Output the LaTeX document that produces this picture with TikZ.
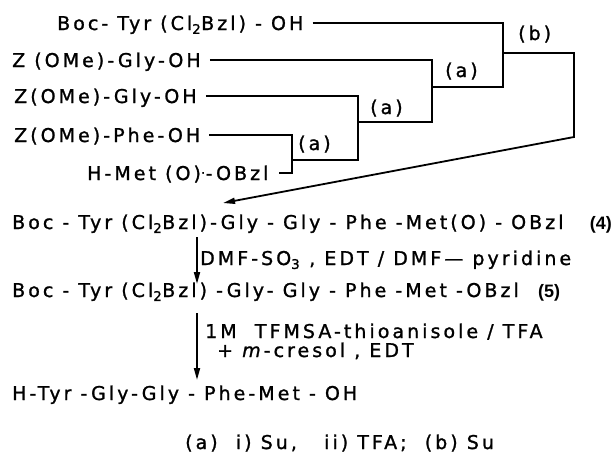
\documentclass[tikz,border=0pt]{standalone}
\usepackage{fontspec}
\setmainfont{DejaVu Sans}[LetterSpace=16,FakeBold=1.2]
\newfontfamily\tagfont{Liberation Sans}
\usetikzlibrary{arrows.meta,positioning}

\begin{document}
\begin{tikzpicture}[
  x=1pt, y=-1pt,
  font=\fontsize{19}{22}\selectfont,
  >={Triangle[length=12pt,width=6pt]},
  node distance=6mm,
  cmpd/.style={inner sep=0pt, text height=14pt, text depth=0pt, anchor=base west},
  cond/.style={cmpd},
  tag/.style={cmpd, font=\fontsize{18}{22}\tagfont\bfseries},
  link/.style={line width=1.8pt, line join=miter, shorten <=9pt},
  flow/.style={->, line width=1.8pt},
]
\useasboundingbox (0,0) rectangle (613,455);

% ---- building blocks ------------------------------------------------------
\node[cmpd] (boctyr) at (57,30)  {Boc- Tyr (Cl\textsubscript{2}Bzl) - OH};
\node[cmpd] (gly2)   at (12,67)  {Z (OMe)-Gly-OH};
\node[cmpd] (gly3)   at (14,103) {Z(OMe)-Gly-OH};
\node[cmpd] (phe)    at (14,142) {Z(OMe)-Phe-OH};
\node[cmpd] (met)    at (87,180) {H-Met (O)\textsuperscript{.}-OBzl};

% ---- fragment couplings -----------------------------------------------------
\coordinate (a1) at (292,160);
\coordinate (a2) at (358,122);
\coordinate (a3) at (432,87);
\coordinate (b)  at (503,53);
\coordinate (bturn) at (574,137);
\coordinate (tip4)  at (223,203);

\draw[link, shorten >=10pt] (phe.east) -| (a1) |- (met.east);
\draw[link, shorten <=0pt] (a1) -| (a2);
\draw[link] (gly3.east) -| (a2);
\draw[link, shorten <=0pt] (a2) -| (a3);
\draw[link] (gly2.east) -| (a3);
\draw[link, shorten <=0pt] (a3) -| (b);
\draw[link] (boctyr.east) -| (b);
\draw[flow, line join=miter] (b) -| (bturn) -- (tip4);

\node[cmpd] (la1) at (298,150) {(a)};
\node[cmpd] (la2) at (370,114) {(a)};
\node[cmpd] (la3) at (445,77)  {(a)};
\node[cmpd] (lb)  at (518,40)  {(b)};

% ---- protected pentapeptides --------------------------------------------------
\node[cmpd] (c4) at (12,229) {Boc - Tyr (Cl\textsubscript{2}Bzl)-Gly - Gly - Phe -Met(O) - OBzl};
\node[tag, right=26pt of c4] (n4) {(4)};
\node[cond] (red) at (200,265) {DMF-SO\textsubscript{3} ,\ EDT / DMF— pyridine};
\node[cmpd] (c5) at (12,297) {Boc - Tyr (Cl\textsubscript{2}Bzl) -Gly- Gly - Phe -Met -OBzl};
\node[tag, right=19pt of c5] (n5) {(5)};
\node[cond] (dep1) at (205,338) {1M\ \ TFMSA-thioanisole / TFA};
\node[cond] (dep2) at (217,357) {+ \textit{m}-cresol ,\ EDT};
\node[cmpd] (fin) at (12,400) {H-Tyr -Gly-Gly - Phe-Met - OH};

\coordinate (s1) at (197,237);
\coordinate (e1) at (197,284);
\coordinate (s2) at (197,313);
\coordinate (e2) at (197,380);
\draw[flow] (s1) -- (e1);
\draw[flow] (s2) -- (e2);

% ---- footnote -------------------------------------------------------------------
\node[cmpd] (key) at (185,449) {(a)\ \ i) Su,\ \ \ ii) TFA;\ \ (b)\ Su};

\end{tikzpicture}
\end{document}
